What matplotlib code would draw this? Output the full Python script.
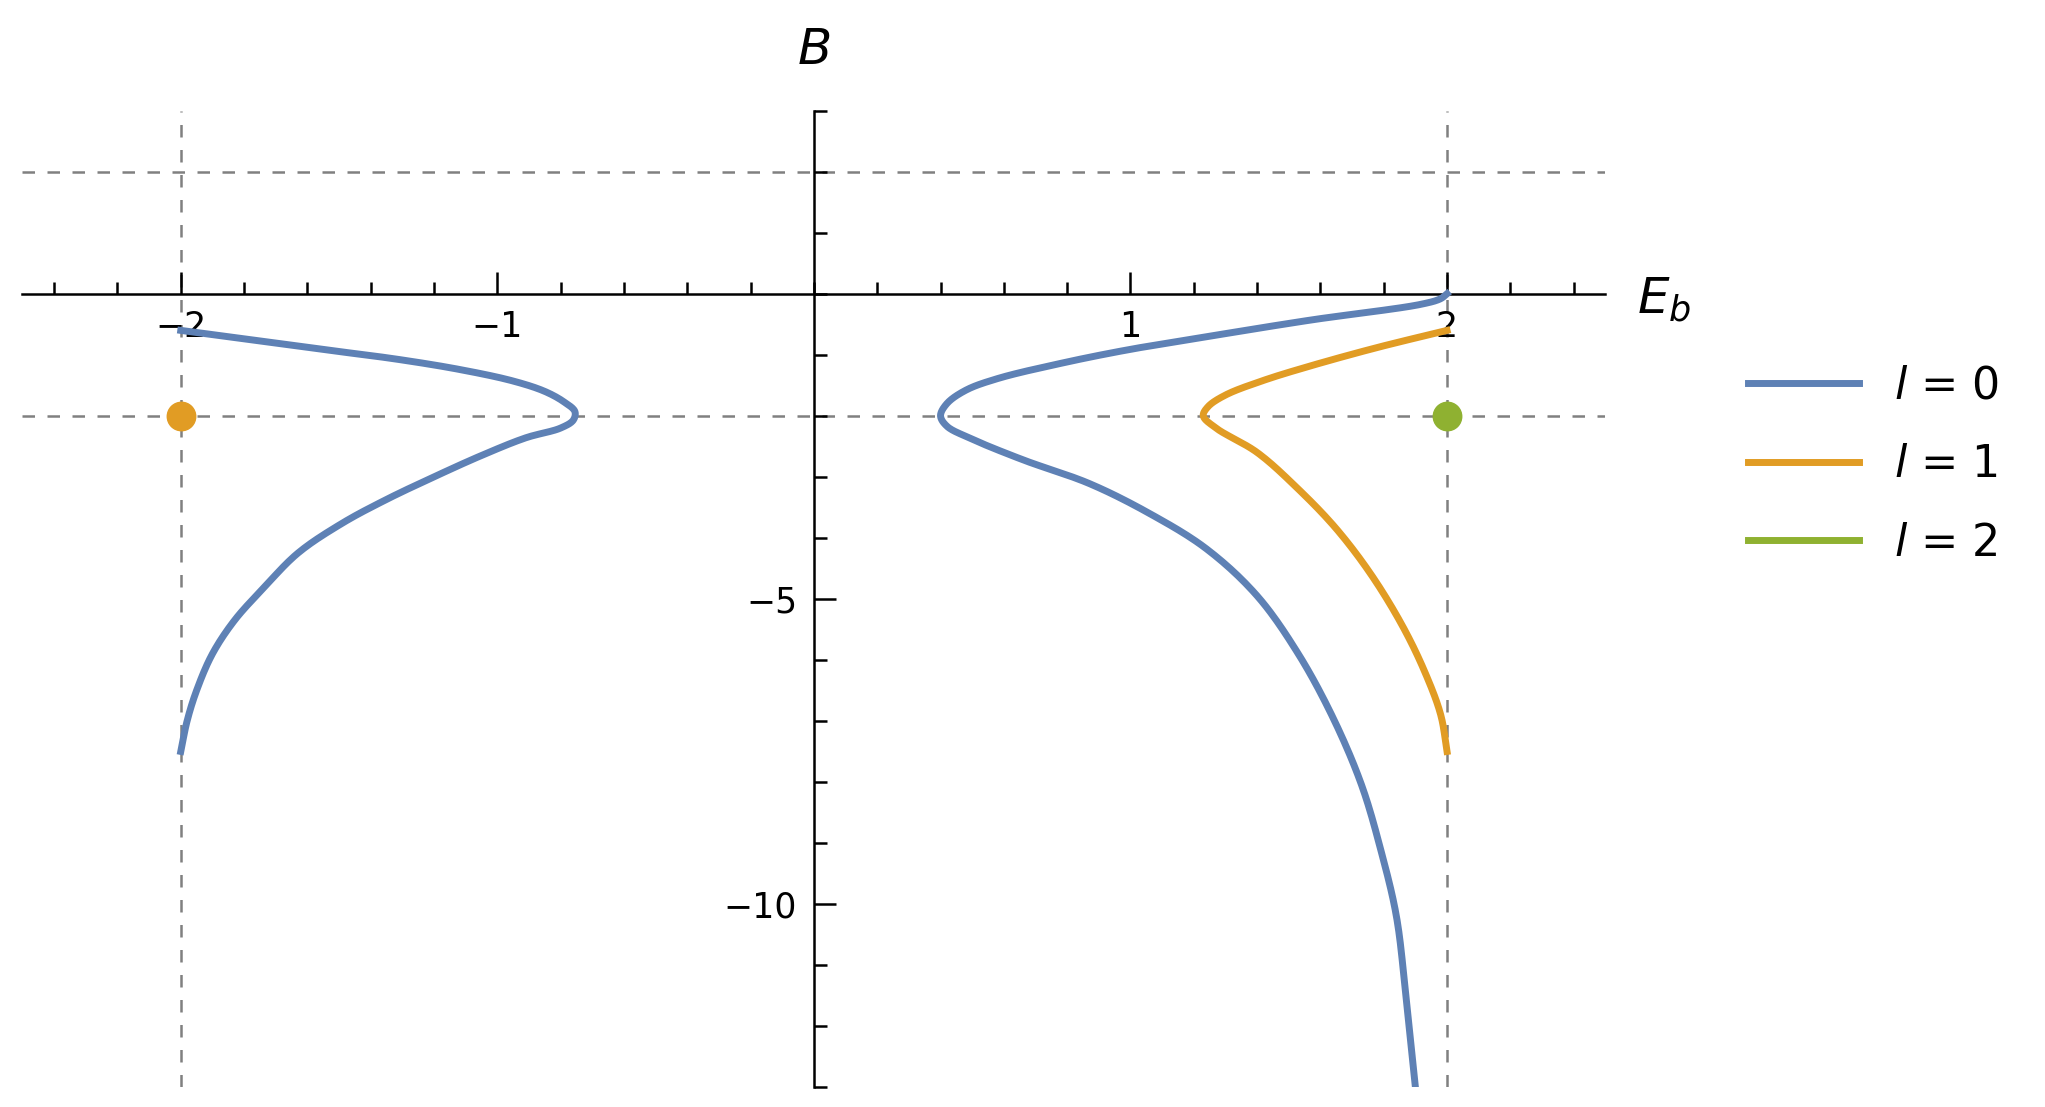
import matplotlib
matplotlib.use("Agg")
import matplotlib.pyplot as plt
import numpy as np

blue, orange, green = "#5E81B5", "#E19C24", "#8FB131"

# l = 0, left branch (E_b, B)
l0L_x = [-2.0, -1.77, -1.54, -1.32, -1.12, -0.95, -0.85, -0.79, -0.755, -0.76, -0.80, -0.91, -1.05, -1.20, -1.35, -1.49, -1.63, -1.74, -1.83, -1.90, -1.95, -1.98, -2.0]
l0L_y = [-0.6, -0.76, -0.92, -1.07, -1.24, -1.43, -1.6, -1.77, -1.93, -2.07, -2.2, -2.36, -2.65, -3.0, -3.37, -3.76, -4.25, -4.83, -5.35, -5.9, -6.5, -7.0, -7.5]
# l = 0, right branch
l0R_x = [2.0, 1.98, 1.92, 1.57, 1.28, 0.99, 0.78, 0.58, 0.48, 0.42, 0.40, 0.42, 0.49, 0.66, 0.87, 1.06, 1.24, 1.40, 1.53, 1.64, 1.73, 1.79, 1.84, 1.87, 1.90]
l0R_y = [0.0, -0.08, -0.17, -0.43, -0.67, -0.92, -1.14, -1.39, -1.58, -1.8, -2.0, -2.17, -2.36, -2.72, -3.11, -3.6, -4.18, -4.95, -5.9, -6.95, -8.05, -9.1, -10.2, -11.5, -13.0]
# l = 1
l1_x = [2.0, 1.78, 1.57, 1.42, 1.30, 1.245, 1.23, 1.27, 1.40, 1.53, 1.65, 1.76, 1.86, 1.93, 1.98, 2.0]
l1_y = [-0.6, -0.88, -1.18, -1.42, -1.66, -1.85, -2.0, -2.2, -2.6, -3.2, -3.85, -4.6, -5.45, -6.2, -6.9, -7.5]
pts_x = [-2, 2]
pts_y = [-2, -2]

fig = plt.figure(figsize=(20.45, 11.07), dpi=100)
ax = fig.add_axes([0.011, 0.018, 0.774, 0.882])
ax.set_xlim(-2.5, 2.5)
ax.set_ylim(-13, 3)

for v in [-2, 2]:
    ax.axvline(v, color="gray", ls=(0, (5, 5)), lw=1.8, zorder=1)
for h in [2, -2]:
    ax.axhline(h, color="gray", ls=(0, (5, 5)), lw=1.8, zorder=1)

def smooth(x, y, n=20):
    # centripetal-like smoothing in display-scaled space (drawing aid only)
    x = np.asarray(x, float); y = np.asarray(y, float)
    sx, sy = x * 241.5, y * 46.6
    px = np.concatenate([[2*sx[0]-sx[1]], sx, [2*sx[-1]-sx[-2]]])
    py = np.concatenate([[2*sy[0]-sy[1]], sy, [2*sy[-1]-sy[-2]]])
    ox, oy = [], []
    for i in range(len(x) - 1):
        P0, P1, P2, P3 = [np.array([px[i+k], py[i+k]]) for k in range(4)]
        def tj(ti, a, b): return ti + np.linalg.norm(b - a) ** 0.5 + 1e-9
        t0 = 0; t1 = tj(t0, P0, P1); t2 = tj(t1, P1, P2); t3 = tj(t2, P2, P3)
        for t in np.linspace(t1, t2, n, endpoint=False):
            A1 = (t1-t)/(t1-t0)*P0 + (t-t0)/(t1-t0)*P1
            A2 = (t2-t)/(t2-t1)*P1 + (t-t1)/(t2-t1)*P2
            A3 = (t3-t)/(t3-t2)*P2 + (t-t2)/(t3-t2)*P3
            B1 = (t2-t)/(t2-t0)*A1 + (t-t0)/(t2-t0)*A2
            B2 = (t3-t)/(t3-t1)*A2 + (t-t1)/(t3-t1)*A3
            C = (t2-t)/(t2-t1)*B1 + (t-t1)/(t2-t1)*B2
            ox.append(C[0] / 241.5); oy.append(C[1] / 46.6)
    ox.append(x[-1]); oy.append(y[-1])
    return ox, oy

lw = 5
ax.plot(*smooth(l0L_x, l0L_y), color=blue, lw=lw, label="$l$ = 0", zorder=3)
ax.plot(*smooth(l0R_x, l0R_y), color=blue, lw=lw, zorder=3)
ax.plot(*smooth(l1_x, l1_y), color=orange, lw=lw, label="$l$ = 1", zorder=3)
ax.plot([], [], color=green, lw=lw, label="$l$ = 2")
ax.scatter(pts_x[:1], pts_y[:1], s=420, color=orange, zorder=4)
ax.scatter(pts_x[1:], pts_y[1:], s=420, color=green, zorder=4)

for s in ["top", "right"]:
    ax.spines[s].set_visible(False)
ax.spines["left"].set_position(("data", 0))
ax.spines["bottom"].set_position(("data", 0))
for s in ["left", "bottom"]:
    ax.spines[s].set_linewidth(1.8)
ax.set_xticks([-2, -1, 1, 2])
ax.set_xticklabels(["−2", "−1", "1", "2"])
ax.set_xticks(np.arange(-2.4, 2.41, 0.2), minor=True)
ax.set_yticks([-10, -5])
ax.set_yticklabels(["−10", "−5"])
ax.set_yticks(np.arange(-13, 3.1, 1), minor=True)
ax.tick_params(axis="x", which="both", direction="in", labelsize=25, pad=12, width=1.8)
ax.tick_params(axis="y", which="both", direction="in", labelsize=25, pad=12, width=1.8)
ax.tick_params(which="major", length=16)
ax.tick_params(which="minor", length=9)
ax.text(0, 3.6, "$B$", fontsize=36, ha="center", va="bottom")
ax.text(2.6, -0.1, "$E_b$", fontsize=36, ha="left", va="center")

fig.legend(loc="center left", bbox_to_anchor=(0.835, 0.58), frameon=False,
           fontsize=32, handlelength=2.5, labelspacing=0.8)
fig.savefig("out.png", dpi=100, facecolor="white")
